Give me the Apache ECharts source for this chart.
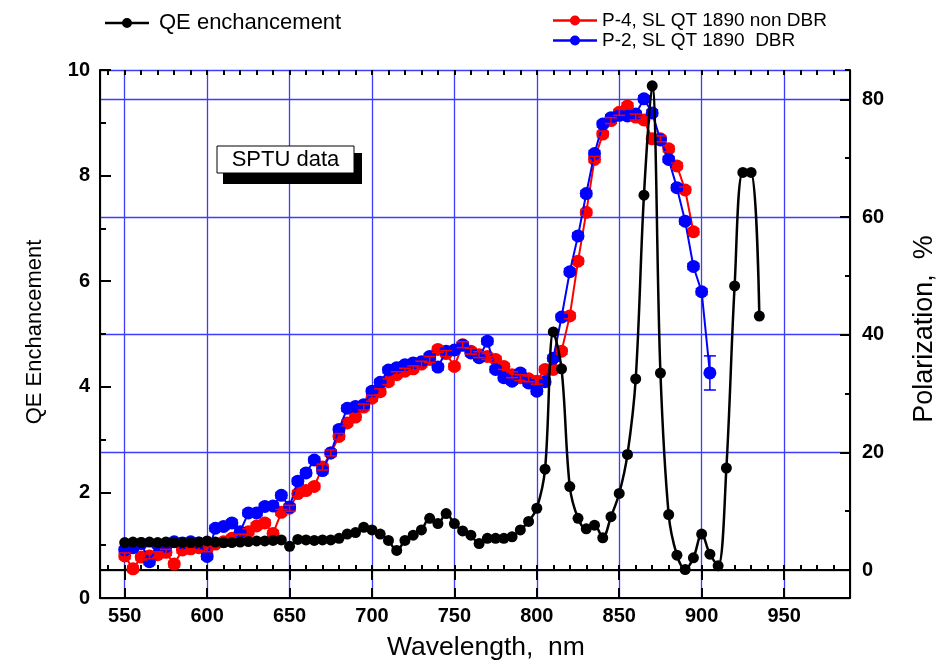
<!DOCTYPE html>
<html><head><meta charset="utf-8">
<script src="https://cdn.jsdelivr.net/npm/echarts@6/dist/echarts.min.js"></script>
<style>html,body{margin:0;padding:0;background:#fff}#c{width:943px;height:662px}</style>
</head><body><div id="c"></div>
<script>
// ---- data ----
const wlBlack = [550,555,560,565,570,575,580,585,590,595,600,605,610,615,620,625,630,635,640,645,650,655,660,665,670,675,680,685,690,695,700,705,710,715,720,725,730,735,740,745,750,755,760,765,770,775,780,785,790,795,800,805,810,815,820,825,830,835,840,845,850,855,860,865,870,875,880,885,890,895,900,905,910,915,920,925,930,935];
const qeEnh = [1.05,1.06,1.05,1.06,1.05,1.06,1.05,1.05,1.05,1.06,1.08,1.06,1.05,1.05,1.06,1.07,1.08,1.08,1.09,1.10,0.98,1.11,1.10,1.09,1.10,1.10,1.13,1.21,1.24,1.34,1.29,1.21,1.09,0.90,1.09,1.19,1.29,1.51,1.41,1.60,1.41,1.27,1.19,1.03,1.13,1.13,1.13,1.16,1.29,1.45,1.70,2.44,5.04,4.34,2.11,1.51,1.31,1.38,1.14,1.54,1.98,2.72,4.15,7.63,9.70,4.26,1.58,0.81,0.54,0.76,1.21,0.83,0.61,2.46,5.91,8.06,8.06,5.34];

const wlRed = [550,555,560,565,570,575,580,585,590,595,600,605,610,615,620,625,630,635,640,645,650,655,660,665,670,675,680,685,690,695,700,705,710,715,720,725,730,735,740,745,750,755,760,765,770,775,780,785,790,795,800,805,810,815,820,825,830,835,840,845,850,855,860,865,870,875,880,885,890,895];
const polP4 = [2.4,0.2,2.2,2.4,2.6,3.0,1.0,3.4,3.6,3.8,3.6,4.4,4.8,5.4,5.6,6.5,7.5,8.0,6.2,9.8,10.5,13.0,13.5,14.2,17.5,19.9,22.7,25.0,26.0,27.7,29.2,30.3,32.0,33.2,33.8,34.2,35.0,35.8,37.5,36.8,34.6,38.3,37.2,36.6,36.3,35.8,34.6,33.2,32.7,32.5,32.1,34.1,34.1,37.2,43.2,52.5,60.8,69.8,74.1,76.4,77.8,78.9,77.0,76.5,73.3,73.3,71.6,68.7,64.6,57.5];
const errP4 = [0.5,0.5,0.5,0.5,0.5,0.5,0.5,0.5,0.5,0.5,0.5,0.5,0.5,0.5,0.5,0.5,0.5,0.5,0.5,0.5,0.5,0.5,0.5,0.5,0.5,0.5,0.5,0.5,0.5,0.5,0.5,0.5,0.5,0.5,0.5,0.5,0.5,0.5,0.5,0.5,0.5,0.5,0.5,0.5,0.5,0.5,0.5,0.5,0.5,0.5,0.5,0.5,0.5,0.5,0.5,0.5,0.5,0.5,0.5,0.5,0.5,0.5,0.5,0.5,0.5,0.5,0.5,0.5,0.5,0.5];

const wlBlue = [550,555,560,565,570,575,580,585,590,595,600,605,610,615,620,625,630,635,640,645,650,655,660,665,670,675,680,685,690,695,700,705,710,715,720,725,730,735,740,745,750,755,760,765,770,775,780,785,790,795,800,805,810,815,820,825,830,835,840,845,850,855,860,865,870,875,880,885,890,895,900,905];
const polP2 = [3.4,3.8,4.5,1.4,4.3,4.0,4.8,4.6,4.8,4.6,2.3,7.1,7.4,8.0,6.5,9.7,9.7,10.8,10.9,12.7,10.7,15.1,16.5,18.7,16.9,19.9,23.9,27.5,27.8,28.1,30.4,31.9,34.0,34.4,34.9,35.2,35.4,36.3,34.5,37.2,37.4,38.2,36.9,36.1,38.9,34.1,32.7,32.1,33.5,31.8,30.4,32.0,36.0,43.0,50.7,56.8,64.0,70.8,75.8,76.9,77.3,77.2,77.5,80.1,77.7,73.1,69.8,65.0,59.3,51.6,47.3,33.5];
const errP2 = [0.5,0.5,0.5,0.5,0.5,0.5,0.5,0.5,0.5,0.5,0.5,0.5,0.5,0.5,0.5,0.5,0.5,0.5,0.5,0.5,0.5,0.5,0.5,0.5,0.5,0.5,0.5,0.5,0.5,0.5,0.5,0.5,0.5,0.5,0.5,0.5,0.5,0.5,0.5,0.5,0.5,0.5,0.5,0.5,0.5,0.5,0.5,0.5,0.5,0.5,0.5,0.5,0.5,0.5,0.5,0.5,0.5,0.5,0.5,0.5,0.5,0.5,0.5,0.5,0.5,0.5,0.5,0.5,0.5,0.5,0.5,2.9];

const xRange = [535, 990];
const qeRange = [0, 10];
const polRange = [-4.76, 85];

// ---- chart ----
const FF = '"Liberation Sans", Arial, sans-serif';
const pair = (xs, ys) => xs.map((x, i) => [x, ys[i]]);
const trip = (xs, ys, es) => xs.map((x, i) => [x, ys[i], es[i]]);
const ICON = 'path://M0,3.75 L44,3.75 L44,6.25 L0,6.25 Z M22,0 A5,5 0 1,1 21.99,0 Z';

function errRender(color) {
  return function (params, api) {
    const x = api.value(0), y = api.value(1), e = api.value(2);
    const t = api.coord([x, y + e]), b = api.coord([x, y - e]);
    const hw = 6;
    const st = {stroke: color, lineWidth: 1.5};
    return {type: 'group', children: [
      {type: 'line', shape: {x1: t[0], y1: t[1], x2: b[0], y2: b[1]}, style: st},
      {type: 'line', shape: {x1: t[0] - hw, y1: t[1], x2: t[0] + hw, y2: t[1]}, style: st},
      {type: 'line', shape: {x1: b[0] - hw, y1: b[1], x2: b[0] + hw, y2: b[1]}, style: st}
    ]};
  };
}

const axLine = {show: true, lineStyle: {color: '#000', width: 2}};
const blueGrid = {show: true, lineStyle: {color: '#3c3cff', width: 1.3}};
const lbl = {color: '#000', fontSize: 20, fontWeight: 'bold', fontFamily: FF};

const chart = echarts.init(document.getElementById('c'), null, {renderer: 'canvas'});
chart.setOption({
  animation: false,
  backgroundColor: '#fff',
  grid: {left: 100, right: 93, top: 70, bottom: 64, containLabel: false},
  xAxis: [
    {type: 'value', min: xRange[0], max: xRange[1], minInterval: 50, maxInterval: 50, position: 'bottom',
     axisLine: axLine, axisTick: {show: true, inside: true, length: 10, lineStyle: {color: '#000', width: 2}},
     axisLabel: Object.assign({margin: 8, showMinLabel: false, showMaxLabel: false}, lbl),
     splitLine: blueGrid},
    {type: 'value', min: xRange[0], max: xRange[1], minInterval: 10, maxInterval: 10, position: 'bottom',
     axisLine: {show: false}, axisTick: {show: true, inside: true, length: 5, lineStyle: {color: '#000', width: 2}},
     axisLabel: {show: false}, splitLine: {show: false}},
    {type: 'value', min: xRange[0], max: xRange[1], minInterval: 50, maxInterval: 50, position: 'top',
     axisLine: axLine, axisTick: {show: true, inside: true, length: 10, lineStyle: {color: '#000', width: 2}},
     axisLabel: {show: false}, splitLine: {show: false}},
    {type: 'value', min: xRange[0], max: xRange[1], minInterval: 10, maxInterval: 10, position: 'top',
     axisLine: {show: false}, axisTick: {show: true, inside: true, length: 5, lineStyle: {color: '#000', width: 2}},
     axisLabel: {show: false}, splitLine: {show: false}}
  ],
  yAxis: [
    {type: 'value', min: qeRange[0], max: qeRange[1], interval: 2, position: 'left',
     axisLine: axLine, axisTick: {show: true, inside: true, length: 11, lineStyle: {color: '#000', width: 2}},
     minorTick: {show: true, splitNumber: 2, length: 6, lineStyle: {color: '#000', width: 2}},
     axisLabel: Object.assign({margin: 10}, lbl), splitLine: {show: false}},
    {type: 'value', min: polRange[0], max: polRange[1], minInterval: 20, maxInterval: 20, position: 'right',
     axisLine: axLine, axisTick: {show: true, inside: true, length: 10, lineStyle: {color: '#000', width: 2}},
     axisLabel: Object.assign({margin: 12, showMinLabel: false, showMaxLabel: false}, lbl),
     splitLine: blueGrid},
    {type: 'value', min: polRange[0], max: polRange[1], minInterval: 10, maxInterval: 10, position: 'right',
     axisLine: {show: false}, axisTick: {show: true, inside: true, length: 5, lineStyle: {color: '#000', width: 2}},
     axisLabel: {show: false}, splitLine: {show: false}}
  ],
  legend: [
    {data: [{name: 'QE enchancement', icon: ICON}], left: 100, top: 7, itemWidth: 44, itemHeight: 10, itemGap: 0,
     textStyle: {fontSize: 22, color: '#000', fontFamily: FF, padding: [0, 0, 0, 5]}},
    {data: [{name: 'P-4, SL QT 1890 non DBR', icon: ICON}, {name: 'P-2, SL QT 1890  DBR', icon: ICON}],
     orient: 'vertical', left: 548, top: 6,
     itemWidth: 44, itemHeight: 10, itemGap: 1, textStyle: {fontSize: 19, color: '#000', fontFamily: FF}}
  ],
  graphic: [
    {type: 'rect', shape: {x: 223, y: 153, width: 139, height: 31}, style: {fill: '#000'}, z: 100},
    {type: 'rect', shape: {x: 217, y: 146, width: 137, height: 27}, style: {fill: '#fff', stroke: '#000', lineWidth: 1}, z: 101},
    {type: 'text', x: 285.5, y: 160, z: 102, style: {text: 'SPTU data', align: 'center', verticalAlign: 'middle', font: '22px ' + FF, fill: '#000'}},
    {type: 'text', x: 486, y: 648, style: {text: 'Wavelength,  nm', align: 'center', verticalAlign: 'middle', font: '26.5px ' + FF, fill: '#000'}},
    {type: 'text', x: 35, y: 332, rotation: Math.PI / 2, style: {text: 'QE Enchancement', align: 'center', verticalAlign: 'middle', font: '22px ' + FF, fill: '#000'}},
    {type: 'text', x: 925, y: 329, rotation: Math.PI / 2, style: {text: 'Polarization,  %', align: 'center', verticalAlign: 'middle', font: '27px ' + FF, fill: '#000'}}
  ],
  series: [
    {name: 'P-4, SL QT 1890 non DBR', type: 'line', xAxisIndex: 0, yAxisIndex: 1, data: pair(wlRed, polP4),
     symbol: 'circle', symbolSize: 13, z: 2, color: '#ff0000',
     lineStyle: {color: '#ff0000', width: 2}, itemStyle: {color: '#ff0000'}},
    {name: 'P-2, SL QT 1890  DBR', type: 'line', xAxisIndex: 0, yAxisIndex: 1, data: pair(wlBlue, polP2),
     symbol: 'circle', symbolSize: 13, z: 3, color: '#0000ff',
     lineStyle: {color: '#0000ff', width: 2}, itemStyle: {color: '#0000ff'}},
    {type: 'custom', xAxisIndex: 0, yAxisIndex: 1, data: trip(wlBlue, polP2, errP2), renderItem: errRender('#0000ff'), z: 4, silent: true},
    {type: 'custom', xAxisIndex: 0, yAxisIndex: 1, data: trip(wlRed, polP4, errP4), renderItem: errRender('#ff0000'), z: 4, silent: true},
    {name: 'QE enchancement', type: 'line', xAxisIndex: 0, yAxisIndex: 0, data: pair(wlBlack, qeEnh),
     smooth: 0.35, symbol: 'circle', symbolSize: 11, z: 5, color: '#000',
     lineStyle: {color: '#000', width: 2.5}, itemStyle: {color: '#000'}}
  ]
});
</script>
</body></html>
